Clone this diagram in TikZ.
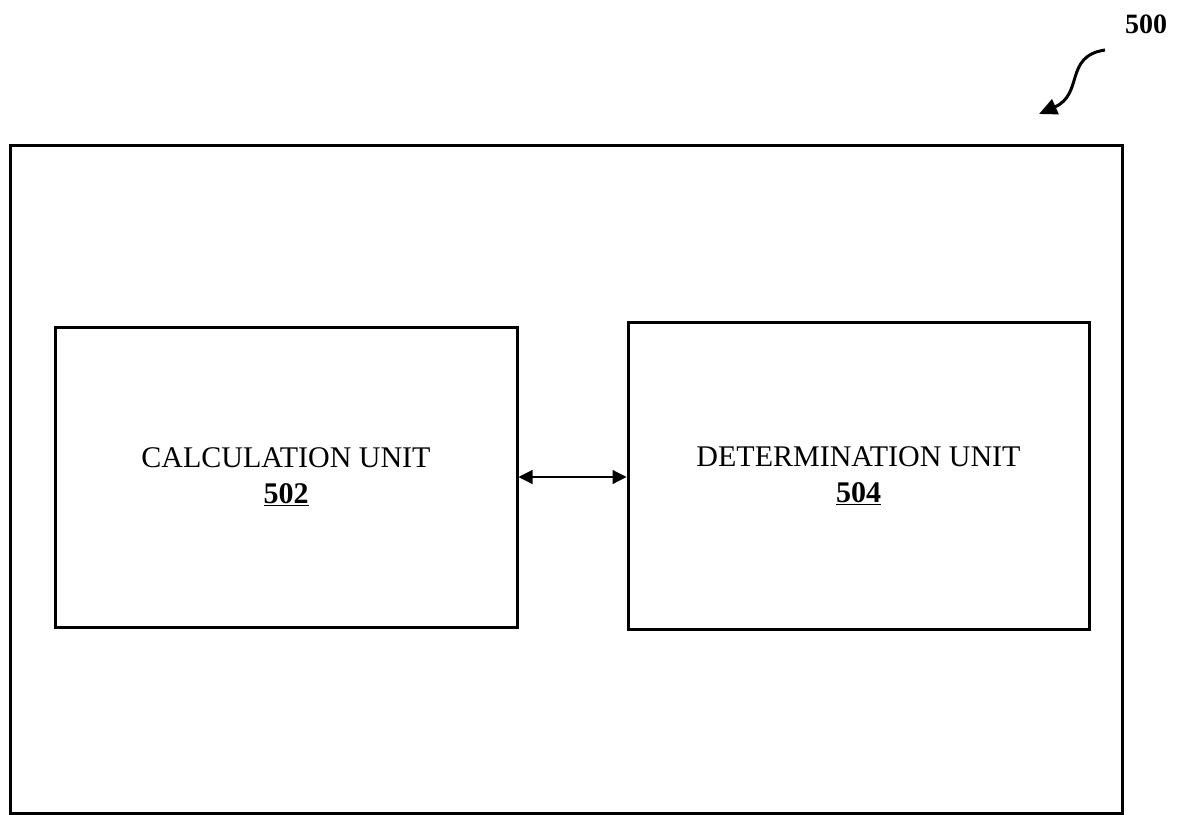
\documentclass[tikz,border=0pt]{standalone}
\usepackage{fontspec}
\setmainfont{Liberation Serif}
\usetikzlibrary{arrows.meta,positioning,calc}
\tikzset{
  unit/.style={rectangle,draw=black,line width=3pt,fill=white,align=center,font=\fontsize{30}{36}\selectfont},
  frame/.style={rectangle,draw=black,line width=3pt},
  link/.style={{Triangle[length=14pt,width=14pt]}-{Triangle[length=14pt,width=14pt]},line width=1.2pt},
  refarrow/.style={-{Triangle[length=18pt,width=16pt]},line width=3pt},
  refnum/.style={font=\fontsize{28}{32}\selectfont\bfseries}
}
\begin{document}
\begin{tikzpicture}[x=1pt,y=-1pt]
  \useasboundingbox (0,0) rectangle (1183,814);
  \node[frame,minimum width=1112pt,minimum height=668pt] (sys) at (566,479) {};
  \node[unit,minimum width=462pt,minimum height=300pt] (calc) at (286,477) {CALCULATION UNIT\\\underline{\textbf{502}}};
  \node[unit,minimum width=461pt,minimum height=307pt] (det) at (858.5,475.5) {DETERMINATION UNIT\\\underline{\textbf{504}}};
  \draw[link] (calc.east) -- (calc.east -| det.west);
  % reference numeral
  \node[refnum] (num) at (1146,24) {500};
  \coordinate (tail) at (1105,50);
  \coordinate (tip) at (1039,114);
  \draw[refarrow] (tail) .. controls (1064,56) and (1084,94) .. (tip);
\end{tikzpicture}
\end{document}
